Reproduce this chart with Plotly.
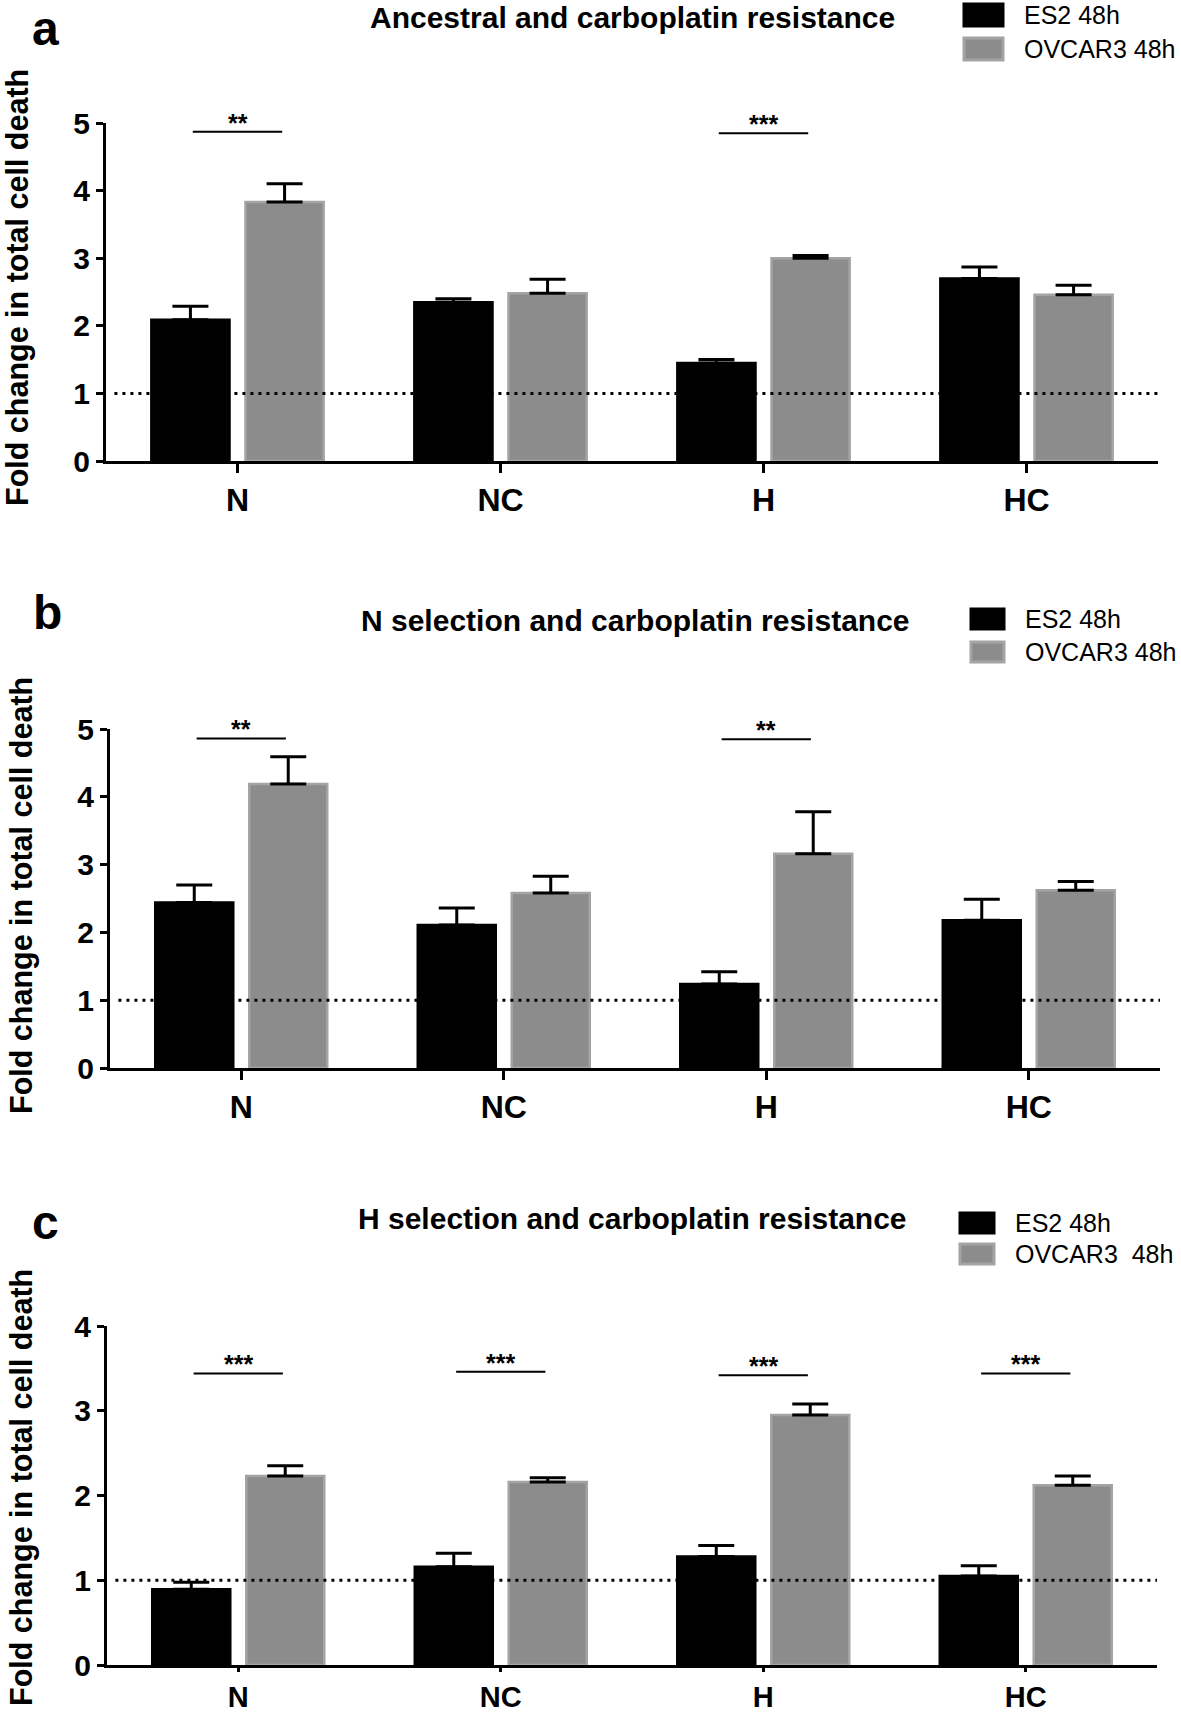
import plotly.graph_objects as go

W, H = 1181, 1716
FONT = "Liberation Sans, Arial, Helvetica, sans-serif"

categories = ["N", "NC", "H", "HC"]
legend_a = ["ES2 48h", "OVCAR3 48h"]
legend_b = ["ES2 48h", "OVCAR3 48h"]
legend_c = ["ES2 48h", "OVCAR3\u00a0 48h"]
titles = ["Ancestral and carboplatin resistance",
          "N selection and carboplatin resistance",
          "H selection and carboplatin resistance"]
panel_labels = ["a", "b", "c"]
y_label = "Fold change in total cell death"
y_max = [5, 5, 4]
baseline = 1

# panel a
a_es2 = [2.09, 2.35, 1.45, 2.70]
a_es2_err = [0.20, 0.05, 0.05, 0.17]
a_ov = [3.83, 2.48, 3.00, 2.46]
a_ov_err = [0.27, 0.21, 0.04, 0.14]
a_sig_cats = ["N", "H"]
a_sig_text = ["**", "***"]
a_sig_y = [4.87, 4.85]

# panel b
b_es2 = [2.44, 2.11, 1.24, 2.18]
b_es2_err = [0.26, 0.25, 0.18, 0.31]
b_ov = [4.19, 2.58, 3.16, 2.62]
b_ov_err = [0.40, 0.25, 0.62, 0.13]
b_sig_cats = ["N", "H"]
b_sig_text = ["**", "**"]
b_sig_y = [4.86, 4.85]

# panel c
c_es2 = [0.895, 1.16, 1.28, 1.05]
c_es2_err = [0.08, 0.16, 0.13, 0.12]
c_ov = [2.23, 2.16, 2.95, 2.12]
c_ov_err = [0.12, 0.05, 0.13, 0.11]
c_sig_cats = ["N", "NC", "H", "HC"]
c_sig_text = ["***", "***", "***", "***"]
c_sig_y = [3.44, 3.46, 3.42, 3.44]

panels = [
    dict(es2=a_es2, es2_err=a_es2_err, ov=a_ov, ov_err=a_ov_err, legend=legend_a,
         sig_cats=a_sig_cats, sig_text=a_sig_text, sig_y=a_sig_y,
         box=(106, 1158, 123, 461), title_xy=(632, 17), label_xy=(45, 28),
         ylab_xy=(18, 288), leg=(964, 1003, 1022, 15, 49, 22), xtick=(32, 9)),
    dict(es2=b_es2, es2_err=b_es2_err, ov=b_ov, ov_err=b_ov_err, legend=legend_b,
         sig_cats=b_sig_cats, sig_text=b_sig_text, sig_y=b_sig_y,
         box=(110, 1160, 729, 1068), title_xy=(635, 620), label_xy=(47, 612),
         ylab_xy=(21, 896), leg=(971, 1004, 1023, 619, 652, 20), xtick=(32, 9)),
    dict(es2=c_es2, es2_err=c_es2_err, ov=c_ov, ov_err=c_ov_err, legend=legend_c,
         sig_cats=c_sig_cats, sig_text=c_sig_text, sig_y=c_sig_y,
         box=(107, 1157, 1326, 1665), title_xy=(632, 1218), label_xy=(45, 1222),
         ylab_xy=(21, 1488), leg=(960, 994, 1013, 1223, 1254, 20), xtick=(29, 4)),
]


def px(x, y):
    return x / W, 1 - y / H


fig = go.Figure()
shapes = []
annotations = []
half = 0.17

for i, p in enumerate(panels):
    sfx = "" if i == 0 else str(i + 1)
    xa, ya = "x" + sfx, "y" + sfx
    for vals, errs, name, fill, edge in [
        (p["es2"], p["es2_err"], p["legend"][0], "#000000", "#000000"),
        (p["ov"], p["ov_err"], p["legend"][1], "#8c8c8c", "#a4a4a4"),
    ]:
        fig.add_trace(go.Bar(
            x=categories, y=vals, name=name, xaxis=xa, yaxis=ya,
            marker=dict(color=fill, line=dict(color=edge, width=2.5)),
            error_y=dict(type="data", array=errs, arrayminus=[0] * len(errs),
                         symmetric=False, color="black", thickness=3, width=18),
            showlegend=False,
        ))

    x0, x1, ytop, ybot = p["box"]
    xd0, _ = px(x0, 0)
    xd1, _ = px(x1, 0)
    _, yd1 = px(0, ytop)
    _, yd0 = px(0, ybot)
    axis_common = dict(showline=True, linecolor="black", linewidth=3,
                       ticks="outside", tickcolor="black", tickwidth=3,
                       showgrid=False, zeroline=False, automargin=False)
    fsize, tlen = p["xtick"]
    fig.update_layout(**{
        "xaxis" + sfx: dict(domain=[xd0, xd1], anchor=ya, range=[-0.5, 3.5],
                            type="category", ticklen=tlen,
                            tickfont=dict(family=FONT, size=fsize, color="black", weight="bold"),
                            **axis_common),
        "yaxis" + sfx: dict(domain=[yd0, yd1], anchor=xa, range=[0, y_max[i]],
                            dtick=1, ticklen=7,
                            tickfont=dict(family=FONT, size=30, color="black", weight="bold"),
                            **axis_common),
    })

    # dotted reference line at 1
    shapes.append(dict(type="line", xref=xa + " domain", yref=ya, x0=0.008, x1=1,
                       y0=baseline, y1=baseline,
                       line=dict(color="black", width=3, dash="3px,5px"), layer="above"))

    # significance bars
    for cat, txt, yv in zip(p["sig_cats"], p["sig_text"], p["sig_y"]):
        k = categories.index(cat)
        shapes.append(dict(type="line", xref=xa, yref=ya, x0=k - half, x1=k + half,
                           y0=yv, y1=yv, line=dict(color="black", width=2)))
        annotations.append(dict(x=cat, y=yv, xref=xa, yref=ya, text=txt, showarrow=False,
                                yanchor="bottom", yshift=-7,
                                font=dict(family=FONT, size=25, color="black", weight="bold")))

    # title, panel label, y-axis label
    tx, ty = px(*p["title_xy"])
    annotations.append(dict(x=tx, y=ty, xref="paper", yref="paper", text=titles[i],
                            showarrow=False, xanchor="center", yanchor="middle",
                            font=dict(family=FONT, size=30, color="black", weight="bold")))
    lx, ly = px(*p["label_xy"])
    annotations.append(dict(x=lx, y=ly, xref="paper", yref="paper", text=panel_labels[i],
                            showarrow=False, xanchor="center", yanchor="middle",
                            font=dict(family=FONT, size=48, color="black", weight="bold")))
    yx, yy = px(*p["ylab_xy"])
    annotations.append(dict(x=yx, y=yy, xref="paper", yref="paper", text=y_label,
                            textangle=-90, showarrow=False, xanchor="center", yanchor="middle",
                            font=dict(family=FONT, size=30.5, color="black", weight="bold")))

    # legend
    sx0, sx1, txt_x, yl1, yl2, sh = p["leg"]
    for yc, fill, edge, name in [(yl1, "#000000", "#000000", p["legend"][0]),
                                 (yl2, "#8c8c8c", "#a4a4a4", p["legend"][1])]:
        ax0, ay0 = px(sx0, yc - sh / 2)
        ax1, ay1 = px(sx1, yc + sh / 2)
        shapes.append(dict(type="rect", xref="paper", yref="paper", x0=ax0, x1=ax1,
                           y0=ay1, y1=ay0, fillcolor=fill, line=dict(color=edge, width=3)))
        nx, ny = px(txt_x, yc)
        annotations.append(dict(x=nx, y=ny, xref="paper", yref="paper", text=name,
                                showarrow=False, xanchor="left", yanchor="middle",
                                font=dict(family=FONT, size=25, color="black")))

fig.update_layout(
    width=W, height=H, autosize=False,
    margin=dict(l=0, r=0, t=0, b=0, autoexpand=False),
    paper_bgcolor="white", plot_bgcolor="white",
    barmode="group", bargap=0.284, bargroupgap=0.17,
    shapes=shapes, annotations=annotations,
)

fig.write_html("out.html", config={"displayModeBar": False},
               post_script="document.body.style.margin='0';")
